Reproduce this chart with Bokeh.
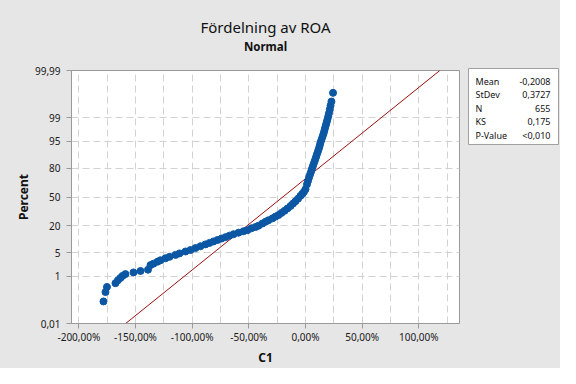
from statistics import NormalDist
from bokeh.plotting import figure
from bokeh.layouts import row
from bokeh.models import Title, FixedTicker, CustomJSTickFormatter, Range1d
from bokeh.core.properties import value
from bokeh.embed import file_html
from bokeh.resources import INLINE

# ---- data (ROA as fraction, cumulative percent) ----
roa = [-1.783, -1.765, -1.752, -1.677, -1.655, -1.633, -1.615, -1.589, -1.518, -1.456, -1.390,
       -1.368, -1.342, -1.306, -1.280, -1.236, -1.200, -1.147, -1.112, -1.059, -1.015,
       -0.971, -0.927, -0.883, -0.847, -0.812, -0.777, -0.741, -0.706, -0.671, -0.635,
       -0.591, -0.547, -0.512, -0.477, -0.441, -0.415, -0.380, -0.353, -0.327, -0.291,
       -0.265, -0.238, -0.212, -0.185, -0.159, -0.132, -0.110, -0.088, -0.066, -0.044,
       -0.026, -0.013, 0.000, 0.013, 0.022, 0.031, 0.040, 0.049, 0.057, 0.066,
       0.075, 0.084, 0.093, 0.101, 0.110, 0.119, 0.126, 0.132, 0.141, 0.150,
       0.159, 0.166, 0.173, 0.180, 0.187, 0.194, 0.201, 0.207, 0.214, 0.221,
       0.229, 0.243]
pct = [0.107, 0.26, 0.41, 0.565, 0.72, 0.87, 1.02, 1.17, 1.33, 1.48, 1.63,
       2.26, 2.50, 2.86, 3.15, 3.58, 3.93, 4.44, 4.86, 5.46, 5.95,
       6.66, 7.39, 8.18, 8.85, 9.56, 10.3, 11.1, 11.9, 12.8, 13.7,
       14.7, 15.7, 16.5, 17.9, 18.9, 19.9, 21.8, 23.3, 24.7, 26.5,
       28.2, 29.8, 32.0, 34.2, 36.8, 39.6, 42.3, 45.1, 48.0, 51.4,
       54.0, 56.2, 59.1, 64.5, 68.2, 71.6, 74.5, 77.1, 79.7, 82.0,
       84.2, 86.1, 88.0, 89.6, 91.05, 92.4, 93.5, 94.5, 95.4, 96.2,
       96.85, 97.4, 97.9, 98.29, 98.62, 98.89, 99.12, 99.31, 99.50, 99.64,
       99.75, 99.89]

mean = -0.2008
stdev = 0.3727
n_obs = 655
stat_names = ["Mean", "StDev", "N", "KS", "P-Value"]
stat_values = ["-0,2008", "0,3727", "655", "0,175", "<0,010"]

y_tick_pct = [0.01, 1, 5, 20, 50, 80, 95, 99, 99.99]
y_tick_labels = ["0,01", "1", "5", "20", "50", "80", "95", "99", "99,99"]
y_grid_pct = [1, 5, 20, 50, 80, 95, 99]
x_ticks = [-2.0, -1.5, -1.0, -0.5, 0.0, 0.5, 1.0]
x_tick_labels = ["-200,00%", "-150,00%", "-100,00%", "-50,00%", "0,00%", "50,00%", "100,00%"]
x_grid = [-2.0, -1.75, -1.5, -1.25, -1.0, -0.75, -0.5, -0.25, 0.0, 0.25, 0.5, 0.75, 1.0, 1.25]

title_text = "Fördelning av ROA"
subtitle_text = "Normal"
x_label = "C1"
y_label = "Percent"

# ---- probability scale ----
nd = NormalDist()
z = [nd.inv_cdf(p / 100.0) for p in pct]
z_ticks = [nd.inv_cdf(p / 100.0) for p in y_tick_pct]
z_grid = [nd.inv_cdf(p / 100.0) for p in y_grid_pct]
z_lo, z_hi = z_ticks[0], z_ticks[-1]

FONT = "Noto Sans"
BG = "#E6E6E6"
TXT = "#111111"

p = figure(width=465, height=368, output_backend="svg", toolbar_location=None,
           x_range=Range1d(-2.065, 1.359), y_range=Range1d(z_lo, z_hi),
           min_border_left=71, min_border_right=6, min_border_top=70, min_border_bottom=40)
p.frame_align = False
p.title.visible = False
p.background_fill_color = "white"
p.border_fill_color = BG
p.outline_line_color = "#9A9A9A"

# titles (stacked outward from the frame: spacer, subtitle, title)
p.add_layout(Title(text=" ", text_font_size="1px", standoff=14), "above")
p.add_layout(Title(text=subtitle_text, align="center", text_font=FONT, text_font_size="11.5px",
                   text_font_style="bold", text_color=TXT, standoff=0), "above")
p.add_layout(Title(text=title_text, align="center", text_font=FONT, text_font_size="15px",
                   text_font_style="normal", text_color=TXT, standoff=0), "above")

# grids
p.xgrid.ticker = FixedTicker(ticks=x_grid)
p.ygrid.ticker = FixedTicker(ticks=z_grid)
for g in (p.xgrid, p.ygrid):
    g.grid_line_color = "#D2D2D2"
    g.grid_line_dash = "7 4"
    g.grid_line_width = 1

# axes
p.xaxis.ticker = FixedTicker(ticks=x_ticks)
p.xaxis.formatter = CustomJSTickFormatter(args=dict(t=x_ticks, l=x_tick_labels), code="""
let b = 0; for (let i = 0; i < t.length; i++) { if (Math.abs(t[i]-tick) < Math.abs(t[b]-tick)) b = i; }
return l[b];""")
p.yaxis.ticker = FixedTicker(ticks=z_ticks)
p.yaxis.formatter = CustomJSTickFormatter(args=dict(t=z_ticks, l=y_tick_labels), code="""
let b = 0; for (let i = 0; i < t.length; i++) { if (Math.abs(t[i]-tick) < Math.abs(t[b]-tick)) b = i; }
return l[b];""")
for ax in (p.xaxis[0], p.yaxis[0]):
    ax.axis_line_color = "#9A9A9A"
    ax.major_tick_line_color = "#9A9A9A"
    ax.major_tick_out = 5
    ax.major_tick_in = 0
    ax.minor_tick_line_color = None
    ax.major_label_text_font = FONT
    ax.major_label_text_font_size = "10px"
    ax.major_label_text_color = "#1A1A1A"
    ax.axis_label_text_font = FONT
    ax.axis_label_text_font_size = "12px"
    ax.axis_label_text_font_style = "bold"
    ax.axis_label_text_color = TXT
p.xaxis.major_label_standoff = 1
p.yaxis.major_label_standoff = 6
p.xaxis.axis_label = x_label
p.yaxis.axis_label = y_label
p.xaxis.axis_label_standoff = 2
p.yaxis.axis_label_standoff = 0

# fitted normal line
p.line([mean + stdev * z_lo, mean + stdev * z_hi], [z_lo, z_hi], line_color="#9B1010", line_width=1)

# points
p.scatter(roa, z, size=7, fill_color="#0B57A4", line_color="#0B57A4")

# ---- statistics box: a small companion figure ----
s = figure(width=95, height=368, output_backend="svg", toolbar_location=None,
           x_axis_type=None, y_axis_type=None,
           x_range=Range1d(0, 90), y_range=Range1d(76, 0),
           min_border_left=3, min_border_right=2, min_border_top=68, min_border_bottom=224)
s.frame_align = False
s.title.visible = False
s.grid.visible = False
s.background_fill_color = "white"
s.border_fill_color = BG
s.outline_line_color = "#A0A0A0"
row_y = [12.5, 26, 39.5, 53, 66.5]
s.text(x=[7] * len(stat_names), y=row_y, text=stat_names, text_font=value(FONT),
       text_font_size="9px", text_color=TXT, text_align="left", text_baseline="middle")
s.text(x=[82] * len(stat_values), y=row_y, text=stat_values, text_font=value(FONT),
       text_font_size="9px", text_color=TXT, text_align="right", text_baseline="middle")

layout = row(p, s, spacing=0, styles={"background-color": BG})
open("out.html", "w").write(file_html(layout, INLINE))
